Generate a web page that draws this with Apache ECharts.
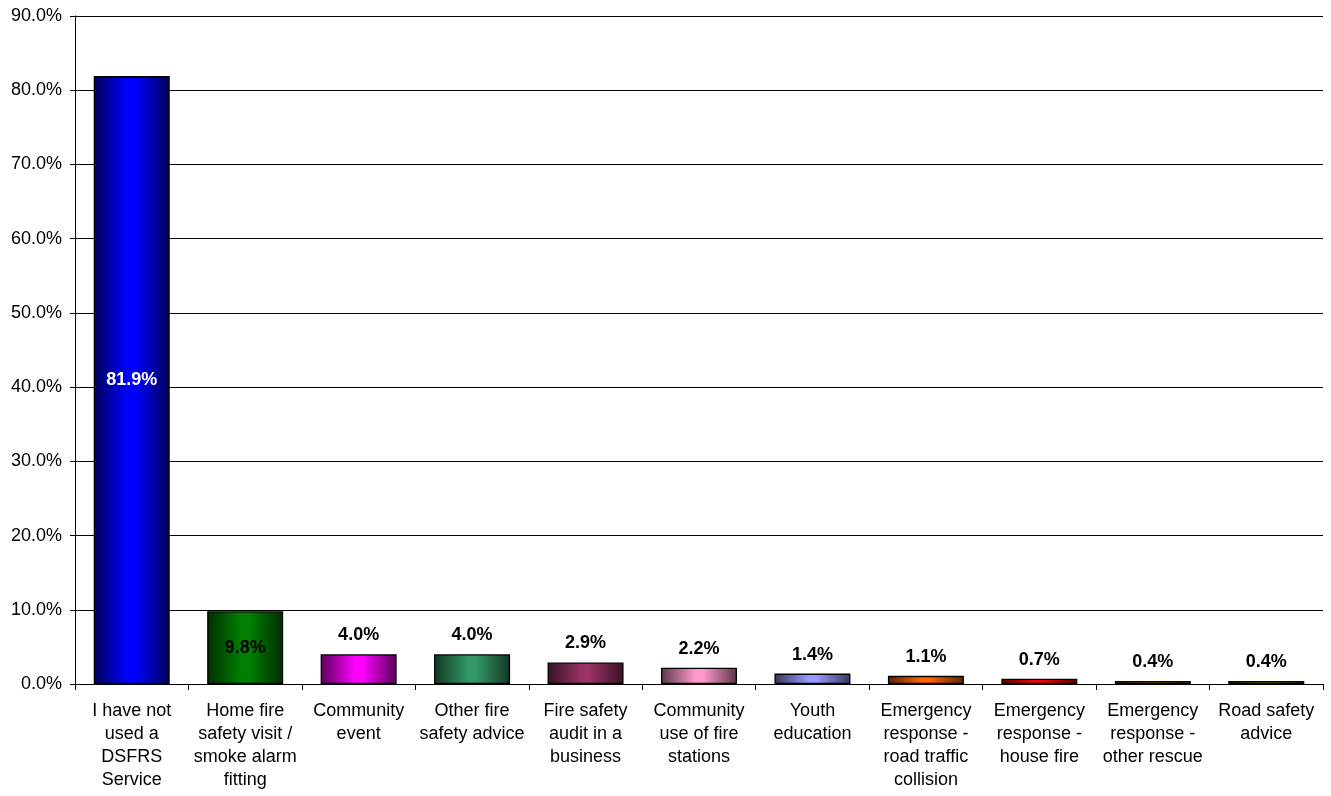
<!DOCTYPE html>
<html>
<head>
<meta charset="utf-8">
<script src="https://cdn.jsdelivr.net/npm/echarts@6/dist/echarts.min.js"></script>
<style>
  html, body { margin: 0; padding: 0; background: #fff; }
  #chart { width: 1331px; height: 796px; }
</style>
</head>
<body>
<div id="chart"></div>
<script>
// Services used (share of respondents)
const categories = [
  'I have not\nused a\nDSFRS\nService',
  'Home fire\nsafety visit /\nsmoke alarm\nfitting',
  'Community\nevent',
  'Other fire\nsafety advice',
  'Fire safety\naudit in a\nbusiness',
  'Community\nuse of fire\nstations',
  'Youth\neducation',
  'Emergency\nresponse -\nroad traffic\ncollision',
  'Emergency\nresponse -\nhouse fire',
  'Emergency\nresponse -\nother rescue',
  'Road safety\nadvice'
];
const values = [81.9, 9.8, 4.0, 4.0, 2.9, 2.2, 1.4, 1.1, 0.7, 0.4, 0.4];
const barColors = ['#0000FF', '#008000', '#FF00FF', '#339966', '#993366', '#FF99CC',
                   '#9999FF', '#FF6600', '#FF0000', '#996600', '#669900'];
// labels placed inside the two tallest bars, above the others
const labelInside = [true, true, false, false, false, false, false, false, false, false, false];
const labelColors = ['#FFFFFF', '#000000'];

const FONT = 'Liberation Sans, Arial, sans-serif';

function shade(hex, f) {
  const n = parseInt(hex.slice(1), 16);
  const r = Math.round(((n >> 16) & 255) * f);
  const g = Math.round(((n >> 8) & 255) * f);
  const b = Math.round((n & 255) * f);
  return 'rgb(' + r + ',' + g + ',' + b + ')';
}

const data = values.map((v, i) => {
  const c = barColors[i];
  return {
    value: v,
    itemStyle: {
      color: {
        type: 'linear', x: 0, y: 0, x2: 1, y2: 0,
        colorStops: [
          { offset: 0, color: shade(c, 0.35) },
          { offset: 0.45, color: c },
          { offset: 0.55, color: c },
          { offset: 1, color: shade(c, 0.35) }
        ]
      },
      borderColor: '#000',
      borderWidth: 1.3
    },
    label: labelInside[i]
      ? { position: 'inside', color: labelColors[i] }
      : { position: 'top', color: '#000', distance: 10 }
  };
});

const chart = echarts.init(document.getElementById('chart'), null, { renderer: 'canvas' });
chart.setOption({
  animation: false,
  backgroundColor: '#fff',
  grid: { left: 75, right: 8, top: 16, bottom: 112, containLabel: false },
  xAxis: {
    type: 'category',
    data: categories,
    axisLine: { lineStyle: { color: '#000', width: 1 } },
    axisTick: { show: true, alignWithLabel: false, length: 6, lineStyle: { color: '#000' } },
    axisLabel: {
      interval: 0,
      color: '#000',
      fontFamily: FONT,
      fontSize: 18,
      lineHeight: 23,
      margin: 16
    }
  },
  yAxis: {
    type: 'value',
    min: 0,
    max: 90,
    interval: 10,
    axisLine: { show: true, lineStyle: { color: '#000', width: 1 } },
    axisTick: { show: true, inside: false, length: 5, lineStyle: { color: '#000' } },
    splitLine: { show: true, lineStyle: { color: '#000', width: 1 } },
    axisLabel: {
      color: '#000',
      fontFamily: FONT,
      fontSize: 18,
      margin: 13,
      formatter: v => v.toFixed(1) + '%'
    }
  },
  series: [{
    type: 'bar',
    data: data,
    barWidth: 76,
    label: {
      show: true,
      fontFamily: FONT,
      fontSize: 18,
      fontWeight: 'bold',
      formatter: p => p.value.toFixed(1) + '%'
    }
  }]
});
</script>
</body>
</html>
